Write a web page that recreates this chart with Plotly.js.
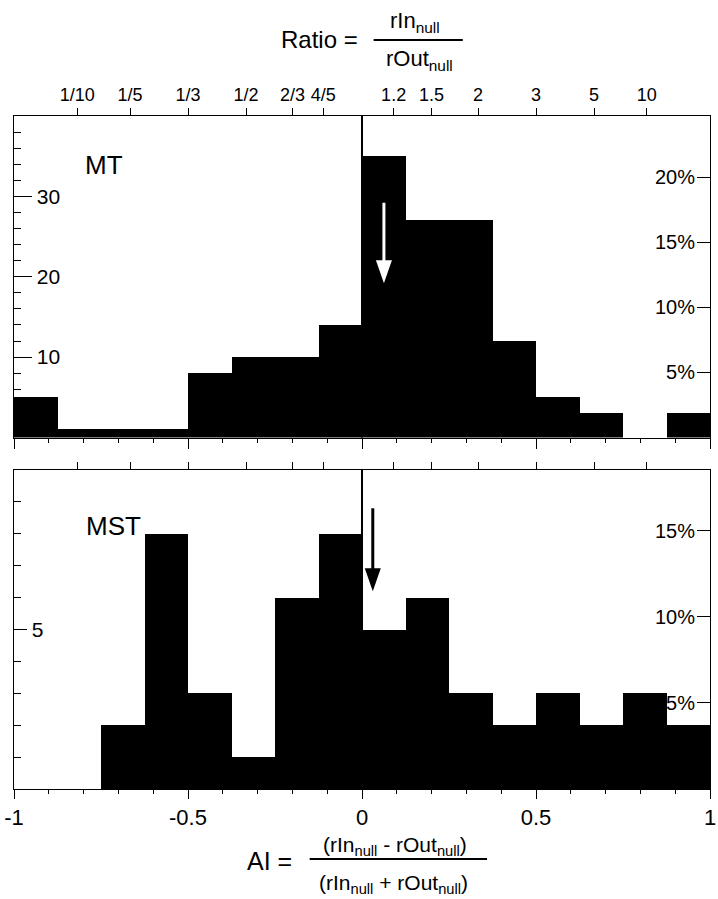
<!DOCTYPE html>
<html><head><meta charset="utf-8">
<script src="https://cdn.plot.ly/plotly-3.0.1.min.js"></script>
<style>html,body{margin:0;padding:0;background:#fff}#chart{width:718px;height:899px}</style>
</head><body><div id="chart"></div>
<script>
// ---- data ----
const binLeft = [-1,-0.875,-0.75,-0.625,-0.5,-0.375,-0.25,-0.125,0,0.125,0.25,0.375,0.5,0.625,0.75,0.875];
const binWidth = 0.125;
const mtCounts  = [5,1,1,1,8,10,10,14,35,27,27,12,5,3,0,3];
const mstCounts = [0,0,2,8,3,1,6,8,5,6,3,2,3,2,3,2];
const meanAI = [0.063, 0.031];          // [MT, MST] arrow positions
const arrowTop = [29.2, 8.8];           // arrow tail (count units)
const arrowTip = [19.2, 6.2];           // arrow tip (count units)
const ratioTickValues = [0.1,0.2,1/3,0.5,2/3,0.8,1.2,1.5,2,3,5,10];
const ratioTickLabels = ['1/10','1/5','1/3','1/2','2/3','4/5','1.2','1.5','2','3','5','10'];
const aiTickVals = [-1,-0.5,0,0.5,1];
const aiTickLabels = ['-1','-0.5','0','0.5','1'];
const mtCountTicks = [10,20,30];
const mstCountTicks = [5];
const mtPctTicks = [5,10,15,20];
const mstPctTicks = [5,10,15];
const panelLabels = ['MT','MST'];

// ---- derived ----
const centers = binLeft.map(v => v + binWidth/2);
const sum = a => a.reduce((s,v)=>s+v,0);
const nMT = sum(mtCounts), nMST = sum(mstCounts);
const ratioPos = ratioTickValues.map(r => (r-1)/(r+1));
const W = 718, H = 899;
const px = x => x/W, py = y => 1 - y/H;
const FONT = 'Liberation Sans, Arial, sans-serif';
const topDom = [py(437.5), py(116)];
const botDom = [py(789), py(470)];
const mtRange = [0,40], mstRange = [0,10];

const traces = [
  {type:'bar', x:centers, y:mtCounts, width:binWidth, xaxis:'x2', yaxis:'y2',
   marker:{color:'#000', line:{width:0}}, hoverinfo:'skip'},
  {type:'bar', x:centers, y:mstCounts, width:binWidth, xaxis:'x', yaxis:'y',
   marker:{color:'#000', line:{width:0}}, hoverinfo:'skip'}
];
// invisible helper traces so the overlaying axes are drawn
[['x3','y2'],['x2','y3'],['x4','y'],['x','y4']].forEach(([xa,ya]) => {
  traces.push({type:'scatter', mode:'markers', x:[0], y:[0], xaxis:xa, yaxis:ya,
    marker:{opacity:0, size:1}, hoverinfo:'skip', showlegend:false});
});

const BLK = '#000';
const baseX = {range:[-1,1], showgrid:false, zeroline:false, showline:true, linecolor:BLK, linewidth:1,
  tickcolor:BLK, tickwidth:1, fixedrange:true, ticklabeloverflow:'allow'};
const baseY = {showgrid:false, zeroline:false, fixedrange:true, tickcolor:BLK, tickwidth:1, ticklabeloverflow:'allow'};

function pxPerUnit(dom, rng){ return (dom[1]-dom[0])*H/(rng[1]-rng[0]); }
const ppu = [pxPerUnit(topDom, mtRange), pxPerUnit(botDom, mstRange)];
const axRefs = [['x2','y2'],['x','y']];
const arrowColors = ['#fff','#000'];
const HEAD_L = 23, HEAD_W = 8;

const shapes = [];
axRefs.forEach(([xr,yr]) => {
  shapes.push({type:'line', xref:xr, yref:yr+' domain', x0:0, x1:0, y0:0, y1:1, line:{color:BLK, width:2}, layer:'above'});
});
axRefs.forEach(([xr,yr], i) => {
  shapes.push({type:'line', xref:xr, yref:yr, x0:meanAI[i], x1:meanAI[i],
    y0:arrowTop[i], y1:arrowTip[i] + (HEAD_L-4)/ppu[i], line:{color:arrowColors[i], width:3}, layer:'above'});
  shapes.push({type:'path', xref:xr, yref:yr, xsizemode:'pixel', ysizemode:'pixel',
    xanchor:meanAI[i], yanchor:arrowTip[i],
    path:`M${-HEAD_W},${HEAD_L} L${HEAD_W},${HEAD_L} L0,0 Z`,
    fillcolor:arrowColors[i], line:{width:0}, layer:'above'});
});
shapes.push({type:'line', xref:'paper', yref:'paper', x0:px(371), x1:px(463), y0:py(40), y1:py(40), line:{color:BLK, width:2}});
shapes.push({type:'line', xref:'paper', yref:'paper', x0:px(305), x1:px(488), y0:py(859), y1:py(859), line:{color:BLK, width:2}});

const ann = (text, x, y, size, xanchor='center') => ({text, x:px(x), y:py(y), xref:'paper', yref:'paper',
  showarrow:false, xanchor, yanchor:'middle', font:{family:FONT, size, color:BLK}});

const annotations = [
  ann('Ratio =', 315, 40, 24),
  ann('rIn<sub>null</sub>', 414, 22, 22),
  ann('rOut<sub>null</sub>', 418, 60, 22),
  ann('AI =', 238, 861, 25, 'left'),
  ann('(rIn<sub>null</sub> - rOut<sub>null</sub>)', 393, 846, 21),
  ann('(rIn<sub>null</sub> + rOut<sub>null</sub>)', 392, 884, 21),
  ann(panelLabels[0], 71, 165, 26, 'left'),
  ann(panelLabels[1], 72, 526, 26, 'left')
];

const tf = s => ({size:s, color:BLK, family:FONT});

const layout = {
  width:W, height:H, margin:{l:14, r:8, t:0, b:0}, paper_bgcolor:'#fff', plot_bgcolor:'#fff',
  showlegend:false, bargap:0, barmode:'overlay', font:{family:FONT, color:BLK},
  xaxis: Object.assign({}, baseX, {anchor:'y', tickvals:aiTickVals, ticktext:aiTickLabels, ticks:'outside', ticklen:9,
    tickfont:tf(22), minor:{dtick:0.1, tick0:0, ticks:'outside', ticklen:4, tickcolor:BLK}}),
  xaxis4: Object.assign({}, baseX, {overlaying:'x', anchor:'y', side:'top', tickvals:ratioPos, showticklabels:false,
    ticks:'outside', ticklen:7}),
  yaxis: Object.assign({}, baseY, {domain:botDom, anchor:'x', range:mstRange, tickvals:mstCountTicks, ticks:'inside',
    ticklen:13, ticklabelposition:'inside', ticklabelstandoff:6, tickfont:tf(21), showline:true, mirror:true, linecolor:BLK, linewidth:1,
    minor:{dtick:1, ticks:'inside', ticklen:7, tickcolor:BLK}}),
  yaxis4: Object.assign({}, baseY, {overlaying:'y', anchor:'x', side:'right', range:[0, mstRange[1]*100/nMST],
    tickvals:mstPctTicks, ticktext:mstPctTicks.map(v=>v+'%'), ticks:'inside', ticklen:13, ticklabelposition:'inside',
    ticklabelstandoff:3, tickfont:tf(20), showline:false}),
  xaxis2: Object.assign({}, baseX, {anchor:'y2', tickvals:aiTickVals, showticklabels:false, ticks:'outside', ticklen:10,
    minor:{dtick:0.1, tick0:0, ticks:'outside', ticklen:4, tickcolor:BLK}}),
  xaxis3: Object.assign({}, baseX, {overlaying:'x2', anchor:'y2', side:'top', tickvals:ratioPos, ticktext:ratioTickLabels,
    ticks:'outside', ticklen:7, tickfont:tf(18)}),
  yaxis2: Object.assign({}, baseY, {domain:topDom, anchor:'x2', range:mtRange, tickvals:mtCountTicks, ticks:'inside',
    ticklen:18, ticklabelposition:'inside', ticklabelstandoff:6, tickfont:tf(21), showline:true, mirror:true, linecolor:BLK, linewidth:1,
    minor:{dtick:2, ticks:'inside', ticklen:7, tickcolor:BLK}}),
  yaxis3: Object.assign({}, baseY, {overlaying:'y2', anchor:'x2', side:'right', range:[0, mtRange[1]*100/nMT],
    tickvals:mtPctTicks, ticktext:mtPctTicks.map(v=>v+'%'), ticks:'inside', ticklen:13, ticklabelposition:'inside',
    ticklabelstandoff:3, tickfont:tf(20), showline:false}),
  shapes, annotations
};

Plotly.newPlot('chart', traces, layout, {staticPlot:true, displayModeBar:false});
</script></body></html>
